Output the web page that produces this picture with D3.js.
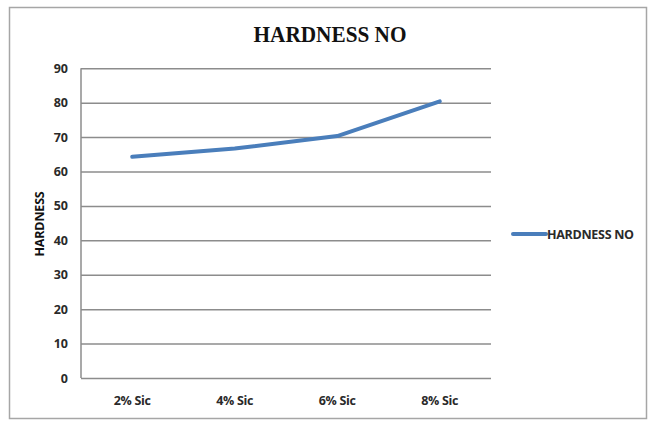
<!DOCTYPE html>
<html>
<head>
<meta charset="utf-8">
<script src="https://cdn.jsdelivr.net/npm/d3@7"></script>
<style>
  html, body { margin: 0; padding: 0; background: #fff; }
  svg { display: block; }
</style>
</head>
<body>
<svg id="chart" width="652" height="421"></svg>
<script>
const categories = ["2% Sic", "4% Sic", "6% Sic", "8% Sic"];
const hardness = [64.3, 66.7, 70.3, 80.4];
const yTicks = [0, 10, 20, 30, 40, 50, 60, 70, 80, 90];
const seriesName = "HARDNESS NO";
const chartTitle = "HARDNESS NO";
const yTitle = "HARDNESS";

const svg = d3.select("#chart");
const plot = { left: 81, right: 491, top: 68.3, bottom: 378 };
const textFont = "'Open Sans', 'Noto Sans', sans-serif";

// outer border
svg.append("rect")
  .attr("x", 9.5).attr("y", 7.5)
  .attr("width", 637).attr("height", 411)
  .attr("fill", "#fff")
  .attr("stroke", "#a6a6a6").attr("stroke-width", 1.5);

const x = d3.scaleBand().domain(categories).range([plot.left, plot.right]);
const y = d3.scaleLinear().domain([0, 90]).range([plot.bottom, plot.top]);

// gridlines
svg.append("g")
  .attr("transform", `translate(${plot.left},0)`)
  .call(d3.axisLeft(y).tickValues(yTicks).tickSize(-(plot.right - plot.left)).tickFormat(""))
  .call(g => g.select(".domain").remove())
  .call(g => g.selectAll("line").attr("stroke", "#8c8c8c").attr("stroke-width", 1.5));

// y axis line
svg.append("line")
  .attr("x1", plot.left).attr("x2", plot.left)
  .attr("y1", plot.top).attr("y2", plot.bottom)
  .attr("stroke", "#8c8c8c").attr("stroke-width", 1.5);

// y tick labels
svg.append("g")
  .attr("transform", `translate(${plot.left},0)`)
  .call(d3.axisLeft(y).tickValues(yTicks).tickSize(0).tickPadding(13))
  .call(g => g.select(".domain").remove())
  .call(g => g.selectAll("text")
    .attr("font-family", textFont)
    .attr("font-weight", "bold")
    .attr("font-size", "12.5px")
    .attr("fill", "#2a2a2a"));

// x tick labels
svg.append("g")
  .attr("transform", `translate(0,${plot.bottom})`)
  .call(d3.axisBottom(x).tickSize(0).tickPadding(18))
  .call(g => g.select(".domain").remove())
  .call(g => g.selectAll("text")
    .attr("font-family", textFont)
    .attr("font-weight", "bold")
    .attr("font-size", "12.5px")
    .attr("letter-spacing", "-0.3px")
    .attr("fill", "#2a2a2a"));

// line
const line = d3.line()
  .x((d, i) => x(categories[i]) + x.bandwidth() / 2)
  .y(d => y(d));
svg.append("path")
  .datum(hardness)
  .attr("d", line)
  .attr("fill", "none")
  .attr("stroke", "#4a7ebb")
  .attr("stroke-width", 4)
  .attr("stroke-linejoin", "round")
  .attr("stroke-linecap", "round");

// title
svg.append("text")
  .attr("x", 330).attr("y", 41.5)
  .attr("text-anchor", "middle")
  .attr("font-family", "'Liberation Serif', 'Times New Roman', serif")
  .attr("font-weight", "bold")
  .attr("font-size", "24px")
  .attr("textLength", 153)
  .attr("lengthAdjust", "spacingAndGlyphs")
  .attr("fill", "#111")
  .text(chartTitle);

// y-axis title
svg.append("text")
  .attr("transform", "translate(44,224) rotate(-90)")
  .attr("text-anchor", "middle")
  .attr("font-family", textFont)
  .attr("font-weight", "bold")
  .attr("font-size", "12.5px")
  .attr("letter-spacing", "-0.2px")
  .attr("fill", "#111")
  .text(yTitle);

// legend
svg.append("line")
  .attr("x1", 513).attr("x2", 546)
  .attr("y1", 234).attr("y2", 234)
  .attr("stroke", "#4a7ebb").attr("stroke-width", 4)
  .attr("stroke-linecap", "round");
svg.append("text")
  .attr("x", 547).attr("y", 238.5)
  .attr("font-family", textFont)
  .attr("font-weight", "bold")
  .attr("font-size", "12.5px")
  .attr("letter-spacing", "-0.3px")
  .attr("fill", "#2a2a2a")
  .text(seriesName);
</script>
</body>
</html>
